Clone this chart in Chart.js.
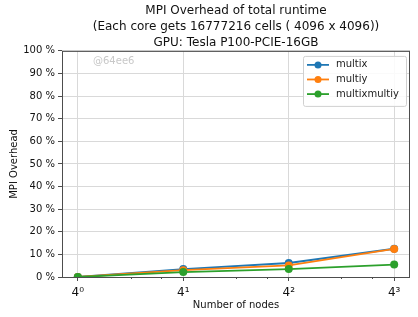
<!DOCTYPE html>
<html>
<head>
<meta charset="utf-8">
<script src="https://cdn.jsdelivr.net/npm/chart.js@4/dist/chart.umd.min.js"></script>
<style>
  html, body { margin: 0; padding: 0; background: #ffffff; }
  #wrap { width: 418px; height: 317px; position: relative; }
</style>
</head>
<body>
<div id="wrap"><canvas id="overhead-chart"></canvas></div>
<script>
// ==========================================
// DATA
// ==========================================
const nodes = [1, 4, 16, 64];
const nodeLabels = ['4\u2070', '4\u00B9', '4\u00B2', '4\u00B3'];
const minorNodeTicks = [2, 3, 8, 12, 32, 48];
const multix = [0, 3.5, 6.2, 12.5];
const multiy = [0, 3.0, 5.1, 12.4];
const multixmultiy = [0, 2.2, 3.5, 5.5];
const yTicks = [0, 10, 20, 30, 40, 50, 60, 70, 80, 90, 100];
const titleLines = [
  'MPI Overhead of total runtime',
  '(Each core gets 16777216 cells ( 4096 x 4096))',
  'GPU: Tesla P100-PCIE-16GB'
];

const FONT = "'DejaVu Sans', sans-serif";
const SPINE = '#4d4d4d';
const GRID = '#d9d9d9';

// frame, minor ticks, watermark and legend box
const axesDecor = {
  id: 'axesDecor',
  beforeDatasetsDraw(chart) {
    const { ctx, chartArea: a } = chart;
    ctx.save();
    ctx.fillStyle = '#c8c8c8';
    ctx.font = '10px ' + FONT;
    ctx.textBaseline = 'middle';
    ctx.fillText('@64ee6', a.left + 31, a.top + 11);
    ctx.restore();
  },
  afterDatasetsDraw(chart) {
    const { ctx, chartArea: a } = chart;
    const xs = chart.scales.x;
    ctx.save();
    ctx.strokeStyle = SPINE;
    ctx.lineWidth = 1;
    ctx.strokeRect(a.left + 0.5, a.top + 0.5, a.right - a.left - 1, a.bottom - a.top);
    minorNodeTicks.forEach(v => {
      const px = Math.round(xs.getPixelForValue(v)) + 0.5;
      ctx.beginPath();
      ctx.moveTo(px, a.bottom);
      ctx.lineTo(px, a.bottom + 2);
      ctx.stroke();
    });

    // legend
    const bx = a.right - 107, by = a.top + 5, bw = 103, bh = 50;
    ctx.fillStyle = 'rgba(255,255,255,0.85)';
    ctx.strokeStyle = '#d0d0d0';
    ctx.beginPath();
    ctx.roundRect(bx + 0.5, by + 0.5, bw, bh, 2);
    ctx.fill();
    ctx.stroke();
    ctx.font = '10px ' + FONT;
    ctx.textBaseline = 'middle';
    chart.data.datasets.forEach((ds, i) => {
      const cy = by + 9 + i * 14.6;
      ctx.strokeStyle = ds.borderColor;
      ctx.lineWidth = 1.8;
      ctx.beginPath();
      ctx.moveTo(bx + 4, cy);
      ctx.lineTo(bx + 26, cy);
      ctx.stroke();
      ctx.fillStyle = ds.borderColor;
      ctx.beginPath();
      ctx.arc(bx + 15, cy, 3.5, 0, Math.PI * 2);
      ctx.fill();
      ctx.fillStyle = '#222222';
      ctx.fillText(ds.label, bx + 33, cy);
    });
    ctx.restore();
  }
};

function makeSeries(label, data, color, order) {
  return {
    label: label,
    data: data.map((v, i) => ({ x: nodes[i], y: v })),
    borderColor: color,
    backgroundColor: color,
    borderWidth: 1.8,
    pointRadius: 4,
    pointHoverRadius: 4,
    pointBorderWidth: 0,
    tension: 0,
    order: order
  };
}

new Chart(document.getElementById('overhead-chart').getContext('2d'), {
  type: 'line',
  data: {
    datasets: [
      makeSeries('multix', multix, '#1f77b4', 3),
      makeSeries('multiy', multiy, '#ff7f0e', 2),
      makeSeries('multixmultiy', multixmultiy, '#2ca02c', 1)
    ]
  },
  options: {
    responsive: true,
    maintainAspectRatio: false,
    animation: false,
    events: [],
    layout: { padding: { left: 0, right: 8, top: 0, bottom: 0 } },
    plugins: {
      legend: { display: false },
      tooltip: { enabled: false },
      title: {
        display: true,
        fullSize: false,
        text: titleLines,
        color: '#111111',
        font: { family: FONT, size: 12, weight: 'normal', lineHeight: 1.33 },
        padding: { top: 3, bottom: 0 }
      }
    },
    scales: {
      x: {
        type: 'logarithmic',
        min: Math.pow(4, -0.15),
        max: Math.pow(4, 3.15),
        afterBuildTicks: scale => { scale.ticks = nodes.map(v => ({ value: v })); },
        afterFit: scale => { scale.height = 40; },
        border: { display: false },
        grid: { color: GRID, lineWidth: 1, tickColor: SPINE, tickLength: 4 },
        ticks: {
          autoSkip: false,
          maxRotation: 0,
          padding: 5,
          color: '#111111',
          font: { family: FONT, size: 12 },
          callback: value => nodeLabels[nodes.indexOf(value)] || ''
        },
        title: {
          display: true,
          text: 'Number of nodes',
          color: '#111111',
          font: { family: FONT, size: 10 },
          padding: { top: 0, bottom: 6 }
        }
      },
      y: {
        min: 0,
        max: 100,
        afterBuildTicks: scale => { scale.ticks = yTicks.map(v => ({ value: v })); },
        afterFit: scale => { scale.width = 62; },
        border: { display: false },
        grid: { color: GRID, lineWidth: 1, tickColor: SPINE, tickLength: 4 },
        ticks: {
          padding: 3,
          color: '#111111',
          font: { family: FONT, size: 10 },
          callback: value => value + ' %'
        },
        title: {
          display: true,
          text: 'MPI Overhead',
          color: '#111111',
          font: { family: FONT, size: 10 },
          padding: { top: 8, bottom: 0 }
        }
      }
    }
  },
  plugins: [axesDecor]
});
</script>
</body>
</html>
